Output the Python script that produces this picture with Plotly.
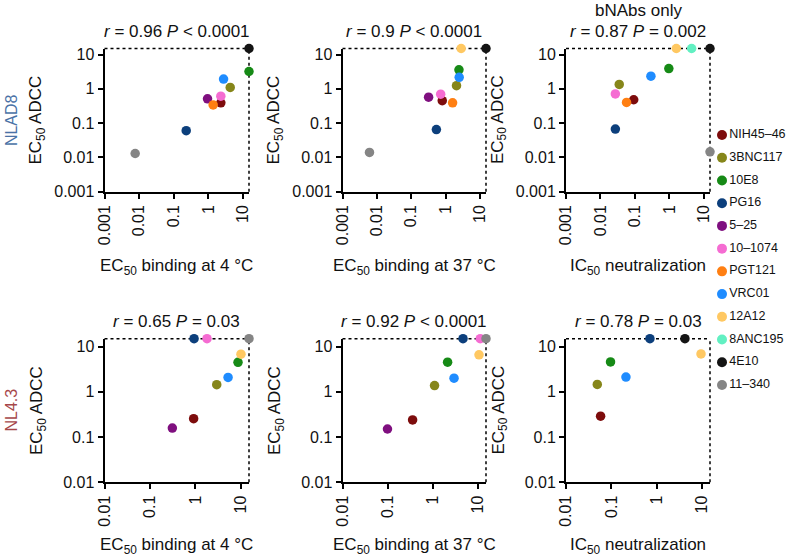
import plotly.graph_objects as go
import math

W, H = 788, 560
FONT = "Liberation Sans, Arial, Helvetica, sans-serif"

antibodies = ["NIH45–46", "3BNC117", "10E8", "PG16", "5–25", "10–1074",
              "PGT121", "VRC01", "12A12", "8ANC195", "4E10", "11–340"]
colors = ["#7d0c0c", "#86861a", "#168a16", "#0c3f7c", "#7f0f7f", "#f56cd2",
          "#ff7f12", "#1f8cff", "#ffc862", "#62f0c2", "#141414", "#858585"]

# EC50 ADCC (y) against each assay (x); None = not in that panel; 15 = not reached
nlad8_bind4 = [2.3, 4.3, 15, 0.23, 0.95, 2.3, 1.38, 2.76, None, None, 15, 0.0077]
nlad8_bind4_adcc = [0.39, 1.1, 3.2, 0.06, 0.51, 0.61, 0.34, 1.92, None, None, 15, 0.013]
nlad8_bind37 = [0.80, 2.08, 2.45, 0.54, 0.32, 0.72, 1.6, 2.49, 2.84, None, 15, 0.0061]
nlad8_bind37_adcc = [0.45, 1.24, 3.59, 0.065, 0.57, 0.70, 0.39, 2.16, 15, None, 15, 0.014]
nlad8_neut = [0.092, 0.035, 0.96, 0.027, None, 0.027, 0.057, 0.29, 1.58, 4.4, 15, 15]
nlad8_neut_adcc = [0.48, 1.34, 3.91, 0.067, None, 0.71, 0.40, 2.33, 15, 15, 15, 0.0146]
nl43_bind4 = [0.91, 2.93, 8.6, 0.93, 0.31, 1.79, None, 5.2, 10, None, None, 15]
nl43_bind4_adcc = [0.255, 1.44, 4.5, 15, 0.158, 15, None, 2.09, 6.8, None, None, 15]
nl43_bind37 = [0.356, 1.09, 2.12, 4.65, 0.099, 11.2, None, 2.94, 10.5, None, None, 15]
nl43_bind37_adcc = [0.24, 1.38, 4.53, 15, 0.151, 15, None, 2.01, 6.6, None, None, 15]
nl43_neut = [0.058, 0.049, 0.096, 0.71, None, None, None, 0.21, 9.5, None, 4.2, None]
nl43_neut_adcc = [0.29, 1.46, 4.6, 15, None, None, None, 2.12, 6.9, None, 15, None]

titles = ["<i>r</i> = 0.96 <i>P</i> &lt; 0.0001", "<i>r</i> = 0.9 <i>P</i> &lt; 0.0001",
          "<i>r</i> = 0.87 <i>P</i> = 0.002", "<i>r</i> = 0.65 <i>P</i> = 0.03",
          "<i>r</i> = 0.92 <i>P</i> &lt; 0.0001", "<i>r</i> = 0.78 <i>P</i> = 0.03"]
xlabels = ["EC<sub>50</sub> binding at 4 °C", "EC<sub>50</sub> binding at 37 °C",
           "IC<sub>50</sub> neutralization"] * 2

panels = [(nlad8_bind4, nlad8_bind4_adcc), (nlad8_bind37, nlad8_bind37_adcc),
          (nlad8_neut, nlad8_neut_adcc), (nl43_bind4, nl43_bind4_adcc),
          (nl43_bind37, nl43_bind37_adcc), (nl43_neut, nl43_neut_adcc)]

# pixel layout
col_px = [(104.5, 249), (342.5, 486), (566, 710)]
row_px = [(48.5, 191.7), (338.7, 482.3)]
row_xtitle_gap = [75, 64]
row_lo = [-3, -2]
row_ticks = [[0.001, 0.01, 0.1, 1, 10], [0.01, 0.1, 1, 10]]


def px(x):
    return x / W


def py(y):
    return 1 - y / H


def note(text, x, y, size=17, **kw):
    return dict(text=text, x=px(x), y=py(y), xref="paper", yref="paper",
                xanchor="center", yanchor="middle", showarrow=False,
                font=dict(size=size, color=kw.pop("color", "#111")), **kw)


fig = go.Figure()

for i, ab in enumerate(antibodies):
    for k, (xs, ys) in enumerate(panels):
        if xs[i] is None:
            continue
        sfx = "" if k == 0 else str(k + 1)
        fig.add_trace(go.Scatter(
            x=[xs[i]], y=[ys[i]], xaxis="x" + sfx, yaxis="y" + sfx,
            mode="markers", name=ab, showlegend=False, cliponaxis=False,
            marker=dict(size=9.5, color=colors[i], line=dict(width=0))))

# legend built as a small scatter on its own axis
fig.add_trace(go.Scatter(
    x=[0] * len(antibodies), y=list(range(len(antibodies))), xaxis="x7", yaxis="y7",
    mode="markers+text", text=antibodies, textposition="middle right",
    textfont=dict(size=12.5, family=FONT, color="#111"), cliponaxis=False,
    marker=dict(size=10, color=colors), showlegend=False))

annotations = []
shapes = []
top = math.log10(15)
for k in range(6):
    r, c = divmod(k, 3)
    sfx = "" if k == 0 else str(k + 1)
    x0, x1 = col_px[c]
    y0, y1 = row_px[r]
    tv = row_ticks[r]
    tt = [str(v) for v in tv]
    common = dict(type="log", showline=True, linewidth=2, linecolor="black",
                  ticks="outside", ticklen=5, tickwidth=1.5, tickcolor="black",
                  showgrid=False, zeroline=False, tickvals=tv, ticktext=tt,
                  tickfont=dict(size=16, family=FONT, color="#111"),
                  range=[row_lo[r], top])
    fig.layout["xaxis" + sfx] = dict(common, domain=[px(x0), px(x1)],
                                     anchor="y" + sfx, tickangle=-90)
    fig.layout["yaxis" + sfx] = dict(common, domain=[py(y1), py(y0)],
                                     anchor="x" + sfx)
    dline = dict(color="black", width=1.5, dash="dot")
    shapes.append(dict(type="line", xref="x%s domain" % sfx, yref="y%s domain" % sfx,
                       x0=0, x1=1, y0=1, y1=1, line=dline, layer="below"))
    shapes.append(dict(type="line", xref="x%s domain" % sfx, yref="y%s domain" % sfx,
                       x0=1, x1=1, y0=0, y1=1, line=dline, layer="below"))
    cx = (x0 + x1) / 2
    annotations.append(note(titles[k], cx, y0 - 17))
    annotations.append(note(xlabels[k], cx, y1 + row_xtitle_gap[r]))
    annotations.append(note("EC<sub>50</sub> ADCC", x0 - 67, (y0 + y1) / 2, textangle=-90))

annotations.append(note("bNAbs only", sum(col_px[2]) / 2, 10))
annotations.append(note("NLAD8", 11, sum(row_px[0]) / 2, size=16, textangle=-90,
                        color="#4a72a6"))
annotations.append(note("NL4.3", 11, sum(row_px[1]) / 2, size=16, textangle=-90,
                        color="#a6474a"))

fig.update_layout(
    width=W, height=H, margin=dict(l=0, r=0, t=0, b=0, autoexpand=False),
    paper_bgcolor="white", plot_bgcolor="white",
    font=dict(family=FONT, color="#111"),
    annotations=annotations, shapes=shapes, showlegend=False,
    xaxis7=dict(domain=[px(722), 1], range=[0, 1], visible=False, anchor="y7"),
    yaxis7=dict(domain=[py(385), py(135)], range=[len(antibodies) - 1, 0],
                visible=False, anchor="x7"),
)

# drop the browser's default 8 px page margin so the figure fills the window
fig.write_html("out.html", config={"displayModeBar": False},
               post_script="document.body.style.margin = '0';")
